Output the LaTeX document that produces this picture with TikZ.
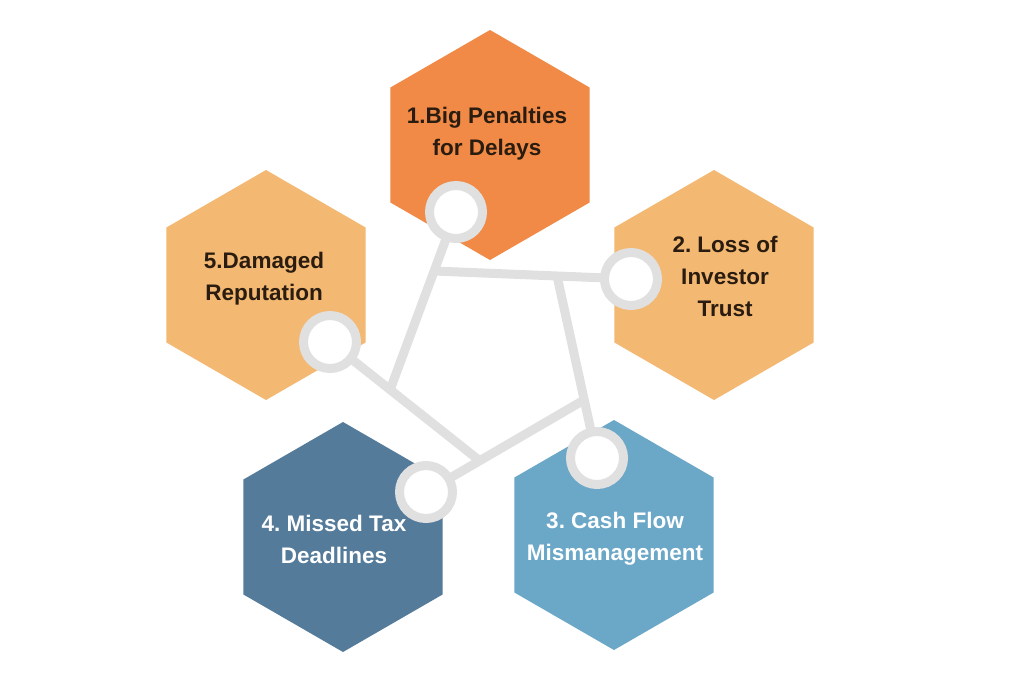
\documentclass[tikz,border=0pt]{standalone}
\usepackage{fontspec}
\setmainfont{Liberation Sans}
\frenchspacing
\usetikzlibrary{shapes.geometric}
\definecolor{hexA}{HTML}{F08A46}
\definecolor{hexB}{HTML}{F3B872}
\definecolor{hexC}{HTML}{6BA7C7}
\definecolor{hexD}{HTML}{557B9B}
\definecolor{ringgray}{HTML}{E0E0E0}
\definecolor{darktext}{HTML}{2A1C10}
\tikzset{
  hexagon/.style={regular polygon, regular polygon sides=6, shape border rotate=30,
    minimum size=230pt, inner sep=0pt, outer sep=0pt, draw=none},
  hextext/.style={font=\bfseries\fontsize{22.5}{32}\selectfont, align=center, inner sep=0pt},
  link/.style={draw=ringgray, line width=9pt},
  ring/.style={circle, draw=ringgray, line width=9pt, fill=white, minimum size=53pt, inner sep=0pt}
}
\begin{document}
\begin{tikzpicture}[x=1pt,y=-1pt]
\useasboundingbox (0,0) rectangle (1024,683);
\fill[white] (0,0) rectangle (1024,683);
% hexagons
\node[hexagon, fill=hexA] (h1) at (490,145) {};
\node[hexagon, fill=hexB] (h2) at (714,285) {};
\node[hexagon, fill=hexC] (h3) at (614,535) {};
\node[hexagon, fill=hexD] (h4) at (343,537) {};
\node[hexagon, fill=hexB] (h5) at (266,285) {};
% texts
\node[hextext, text=darktext] (t1) at (487,134) {1.Big Penalties\\for Delays};
\node[hextext, text=darktext] (t2) at (725,276.5) {2. Loss of\\Investor\\Trust};
\node[hextext, text=white] (t3) at (615,539) {3. Cash Flow\\Mismanagement};
\node[hextext, text=white] (t4) at (334,539) {4. Missed Tax\\Deadlines};
\node[hextext, text=darktext] (t5) at (264,279) {5.Damaged\\Reputation};
% circle centres and junctions
\coordinate (c1) at (456,212);
\coordinate (c2) at (631,279);
\coordinate (c3) at (597,458);
\coordinate (c4) at (426,492);
\coordinate (c5) at (330,342);
\coordinate (j1) at (390,390);
\coordinate (j2) at (434,271);
\coordinate (j3) at (557,276);
\coordinate (j4) at (584,400);
\coordinate (j5) at (480,461);
% connectors
\draw[link] (c1) -- (j1);
\draw[link] (j2) -- (c2);
\draw[link] (j3) -- (c3);
\draw[link] (c4) -- (j4);
\draw[link] (c5) -- (j5);
% rings
\node[ring] (r1) at (c1) {};
\node[ring] (r2) at (c2) {};
\node[ring] (r3) at (c3) {};
\node[ring] (r4) at (c4) {};
\node[ring] (r5) at (c5) {};
\end{tikzpicture}
\end{document}
